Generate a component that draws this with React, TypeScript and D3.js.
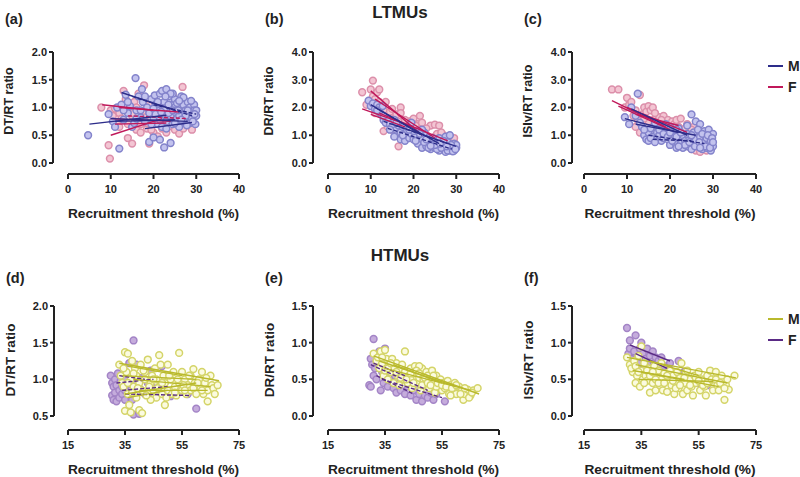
import * as d3 from "d3";

type Pt = [number, number];
type Seg = [number, number, number, number, number]; // x1, y1, x2, y2, dashed

// ---- LTMUs ----
const aMale: Pt[] = [[4.7,0.5],[9.5,0.88],[10.5,0.75],[11,0.65],[11.5,1.0],[12,0.26],[12.5,1.05],[13,0.78],[13.5,1.23],[14,0.9],[14.5,1.03],[15,0.65],[15.5,0.72],[15.8,1.53],[16,0.95],[16.5,1.2],[17,0.82],[17.3,1.33],[17.5,1.1],[18,0.75],[18.5,1.0],[19,0.38],[19,0.9],[19.5,1.15],[20,0.46],[20,0.8],[20.3,1.22],[20.5,1.05],[21,0.7],[21,0.95],[21.5,0.42],[21.5,1.25],[22,0.85],[22,1.3],[22.5,0.28],[22.5,1.1],[23,0.75],[23,0.95],[23,1.33],[23.5,1.2],[24,0.36],[24,0.85],[24,1.05],[24.5,0.7],[25,0.92],[25,1.15],[25.5,0.8],[26,1.0],[26,0.65],[26.5,1.2],[26.8,0.9],[27,1.05],[27,0.75],[27.5,0.95],[28,0.85],[28,1.1],[28.5,0.72],[28.5,1.0],[29,0.9],[29,0.8],[29.5,1.05],[29.5,0.95],[29.8,0.7],[30,0.85],[30,0.95],[21,1.1],[22,0.65],[25,1.0],[23.5,0.9],[26,0.85],[27.5,0.85],[24.5,1.25],[20,0.98],
  [19.5,0.7],[20.5,0.88],[21.5,0.78],[22.5,0.98],[23.5,1.05],[24.5,0.95],[25.5,1.08],[26.5,0.78],[27,1.18],[28,0.95],[28.8,1.12],[29.2,0.75],[25,0.72],[26,1.12],[23,0.62],[27.8,0.68],[24,1.25],[22.8,1.2],[18,1.2],[17,0.95],[16,0.8],[14,1.1],[13,0.95],[21.8,0.92],[29.6,0.88],[25.8,0.95]];
const aFemale: Pt[] = [[7.8,1.0],[9.5,0.32],[9.8,0.08],[10,0.95],[10.5,0.85],[11,0.98],[11.5,0.72],[12,0.9],[12.5,0.8],[13,1.3],[13.5,1.15],[14,0.45],[14,0.7],[14.5,0.95],[15,0.35],[15,0.85],[15.5,1.1],[16,0.6],[16.5,1.25],[17,0.7],[17,0.55],[17.8,1.4],[18,0.9],[18.5,0.62],[19,0.35],[19,1.05],[20,0.55],[20,0.75],[21,0.48],[21,0.9],[22,0.62],[22,1.0],[23,0.55],[23,0.8],[24,0.7],[24.5,1.22],[25,0.6],[25,0.95],[26,0.53],[26,0.75],[26.8,1.37],[27,0.62],[27.5,0.85],[28,0.7],[28.5,1.0],[29,0.6],[18,0.82],[16,1.0],
  [12,0.65],[15,0.9],[18.5,0.72],[20,0.95],[22,0.85],[24,0.9],[25.5,0.75],[27,0.95],[19.5,0.6],[23.5,0.65]];
const aMaleFits: Seg[] = [[5,0.7,23,0.86,0],[12.5,1.27,25,0.95,0],[15,1.2,29,0.85,1],[10,0.8,28,0.75,0],[18,0.62,29,0.73,0],[20,1.05,30,0.88,1],[11,0.75,25,0.78,0]];
const aFemaleFits: Seg[] = [[8,1.05,20,0.95,0],[10,0.5,22,0.8,0],[12,1.0,26,0.92,0],[10,0.8,24,0.75,0],[14,0.85,28,0.8,1],[11,0.7,23,0.72,0]];

const bMale: Pt[] = [[9.5,2.25],[10,2.05],[10.5,2.15],[11,1.95],[11.5,2.1],[12,2.0],[12,1.85],[12.5,1.75],[13,1.55],[13.5,1.45],[14,1.6],[14.5,1.4],[15,1.3],[15.5,1.55],[15.5,0.95],[16,1.2],[16.5,1.35],[17,1.1],[17,0.85],[17.5,1.3],[18,1.0],[18,0.8],[18.5,1.15],[19,0.9],[19.5,1.45],[19.5,1.05],[20,0.85],[20.5,1.0],[21,1.15],[21,0.7],[21.5,0.95],[22,0.55],[22,0.85],[22.5,1.1],[23,0.7],[23,0.6],[23.5,0.9],[24,0.5],[24,0.75],[24.5,0.65],[25,0.85],[25,0.55],[25.5,0.7],[26,0.6],[26,0.45],[26.5,0.8],[27,0.5],[27,0.65],[27.5,0.95],[27.5,0.4],[28,0.55],[28,0.75],[28.5,0.45],[28.5,1.0],[29,0.6],[29,0.5],[29.5,0.7],[29.5,0.45],[30,0.55],[30,0.65],[22,1.2],[20,1.15],[26,0.9],
  [13,1.7],[14.5,1.2],[16,1.45],[17.5,1.0],[19,1.2],[20.5,0.8],[21.5,1.05],[22.5,0.75],[23.5,0.55],[24.5,0.9],[25.5,0.5],[26.5,0.55],[27,0.8],[28,0.45],[28.8,0.65],[29.2,0.42],[29.8,0.5],[25,0.65],[23,0.85],[27.8,0.6],[26.2,0.7],[24,0.62],[11.5,1.9],[12.8,2.05]];
const bFemale: Pt[] = [[8,2.55],[9,2.1],[10,2.65],[10.5,2.97],[10.5,2.4],[11,2.3],[11,1.8],[11.5,2.55],[12,2.65],[12,2.2],[12.5,1.75],[13,1.9],[13,1.15],[13.5,2.2],[14,1.5],[14,1.3],[14.5,1.85],[15,1.6],[15,1.2],[15.5,1.45],[16,1.75],[16.5,0.6],[17,2.0],[17,1.8],[17.5,1.4],[18,1.3],[18,1.1],[19,1.5],[19.5,1.25],[20,1.6],[20,0.95],[21,1.4],[21,0.75],[21.5,1.7],[22,1.2],[22.5,0.6],[23,1.0],[23.5,0.85],[24,1.35],[24.5,0.65],[25,1.38],[25,0.95],[26,1.35],[26,0.8],[27,1.0],[27.5,0.7],[28,0.9],[28.5,0.65],[29,0.85],[29.5,0.75],[16,1.05],
  [13.5,1.6],[15,1.95],[16.5,1.5],[18,1.55],[19,1.2],[20.5,1.35],[22,1.45],[23,1.25],[25.5,1.05],[26.5,1.1],[28,0.75],[29.5,0.9]];
const bMaleFits: Seg[] = [[10,2.1,22,1.0,0],[11,2.0,26,0.7,0],[13,1.5,28,0.7,1],[15,1.4,30,0.6,0],[14,1.25,29,0.5,1]];
const bFemaleFits: Seg[] = [[8,1.95,20,1.3,0],[10,2.6,22,1.0,0],[11,2.3,25,0.9,0],[12,1.8,28,0.8,0],[10,1.75,18,1.3,0]];

const cMale: Pt[] = [[9.5,1.65],[10.5,1.4],[11,2.0],[12,1.7],[12.5,2.5],[13,1.45],[13.5,1.3],[14,1.0],[14.5,0.85],[15,1.1],[15,0.8],[15.5,1.25],[16,0.95],[16.5,1.45],[17,0.85],[17,1.1],[17.5,1.0],[18,0.8],[18,1.2],[18.5,0.9],[19,1.05],[19.5,0.85],[20,1.3],[20,0.65],[20.5,0.95],[21,1.1],[21,0.75],[21.5,0.55],[22,0.9],[22,1.25],[22.5,0.7],[23,1.0],[23,0.55],[23.5,0.8],[24,1.35],[24,0.6],[24.5,0.9],[25,1.75],[25,0.5],[25.5,1.1],[25.5,0.7],[26,1.5],[26,0.85],[26.5,0.6],[27,1.4],[27,0.95],[27.5,0.5],[28,1.15],[28,0.75],[28.5,0.9],[28.5,0.55],[29,1.2],[29,0.65],[29.5,0.45],[29.5,0.8],[30,1.05],[30,0.6],[19,1.4],[21.5,1.2],[24,1.05],[26.5,1.2],
  [15.5,0.9],[16.5,0.75],[17.5,1.2],[18.5,1.05],[19.5,0.95],[20.5,0.8],[21.5,0.95],[22.5,1.1],[23.5,0.65],[24.5,0.75],[25,1.0],[25.8,0.6],[26.8,0.75],[27.5,1.05],[28.2,0.6],[28.8,1.0],[29.3,0.55],[29.8,0.9],[30,0.75],[27,0.55],[22,0.6],[20,1.1],[14,1.2]];
const cFemale: Pt[] = [[6.5,2.65],[8,2.65],[9.5,2.0],[10,2.35],[10.5,2.1],[11,2.2],[11.5,1.7],[12,1.9],[12.5,1.55],[13,2.45],[13,1.1],[13.5,1.75],[14,2.0],[14.5,1.85],[15,2.05],[15,1.5],[15.5,1.9],[16,2.0],[16.5,1.6],[17,1.45],[17.5,1.65],[18,1.3],[18.5,1.7],[19,1.45],[19.5,1.55],[20,1.35],[20.5,1.5],[21,1.4],[21.5,1.55],[22,1.3],[22.5,1.6],[23,1.15],[24,1.4],[24.5,0.95],[25,0.5],[25.5,1.3],[26,0.45],[26.5,1.0],[27,0.4],[27.5,0.7],[28,0.85],[28.5,1.1],[29,0.6],[12,1.3],[17,1.2],
  [14,1.6],[16.5,1.8],[18,1.55],[19.5,1.35],[21,1.3],[23.5,1.25],[25,1.2],[26,1.05],[27,0.85],[28.5,0.45]];
const cMaleFits: Seg[] = [[9.5,1.6,22,1.1,0],[11,1.95,24,1.0,0],[15,1.0,28,0.7,1],[16,0.85,25,0.8,1],[12,1.4,26,1.0,0]];
const cFemaleFits: Seg[] = [[6.5,2.25,19,1.3,0],[8,2.05,20,1.2,0],[10,2.0,24,1.1,0],[12,1.75,22,1.35,0]];

// ---- HTMUs ----
const dMale: Pt[] = [[33,1.2],[33.5,1.05],[34,0.95],[34.5,0.9],[35,1.37],[35,0.57],[35.5,1.1],[36,1.35],[36,0.8],[36.5,0.65],[37,0.55],[37,1.0],[37.5,1.25],[38,0.9],[38.5,1.15],[39,0.75],[39,1.05],[40,0.58],[40,0.95],[40.5,1.2],[41,0.54],[41,0.85],[42,1.0],[42,1.1],[43,0.8],[43,1.27],[44,0.95],[44.5,1.05],[45,0.85],[45.5,1.15],[46,0.75],[46,1.0],[47,1.33],[47,0.9],[47.5,1.2],[48,0.8],[48.5,1.05],[49,0.65],[49,0.95],[50,1.2],[50,0.85],[51,1.0],[51.5,0.8],[52,1.1],[52.5,0.9],[53,0.78],[54,1.36],[54,0.95],[55,1.1],[55,0.85],[56,1.0],[56.5,0.8],[57,0.92],[58,1.05],[58,0.85],[59,1.14],[59.5,0.95],[60,0.8],[61,1.0],[61.5,0.88],[62,1.1],[62.5,0.8],[63,0.95],[64,0.7],[64,0.85],[65,1.05],[65.5,0.92],[66,0.88],[67.5,0.92],[44,0.72],[38,1.08],
  [36,0.95],[39.5,0.88],[41.5,1.12],[43.5,0.9],[45,1.0],[46.5,0.88],[48,0.95],[50.5,1.05],[52.5,0.82],[53.5,1.0],[55.5,0.92],[57.5,1.05],[59,0.88],[60.5,0.95],[62,0.85],[63.5,1.02],[66.5,0.8],[34.5,1.15],[37.5,0.82],[42.5,0.78],[49.5,0.75],[56,0.85]];
const dFemale: Pt[] = [[30,1.05],[30.5,0.95],[30.5,0.78],[31,0.9],[31,0.72],[31.5,1.0],[31.5,0.82],[32,0.92],[32,0.7],[32.5,1.08],[33,0.85],[33,0.75],[33.5,0.98],[34,0.9],[34,0.8],[35,1.0],[35,0.72],[36,0.9],[36.5,1.22],[37,0.85],[37.5,0.72],[38,1.53],[38,0.52],[38.5,0.95],[39,1.2],[40,0.53],[40,0.88],[41,1.02],[42,0.8],[43,0.95],[44,1.12],[45,0.88],[46,0.82],[48,1.18],[49,0.8],[51,0.77],[54,0.9],[57,0.8],[60,0.6],[35,0.85]];
const dMaleFits: Seg[] = [[33,1.22,68,0.98,0],[36,1.18,55,1.05,0],[35,0.8,60,0.95,0],[36,0.75,50,0.85,0],[38,1.0,65,0.9,0],[34,1.05,60,1.0,0],[40,0.85,64,0.85,0]];
const dFemaleFits: Seg[] = [[32,0.95,45,1.0,1],[34,0.85,50,0.9,1],[35,0.8,58,0.78,1],[33,1.05,42,1.0,1]];

const eMale: Pt[] = [[31,0.85],[32,0.75],[32.5,0.8],[33,0.65],[33.5,0.88],[34,0.72],[34.5,0.55],[35,0.9],[35,0.62],[35.5,0.78],[36,0.5],[36.5,0.7],[37,0.6],[37.5,0.78],[38,0.45],[38,0.65],[39,0.72],[39.5,0.55],[40,0.62],[40,0.42],[41,0.7],[41.5,0.5],[42,0.88],[42,0.6],[43,0.45],[43.5,0.55],[44,0.65],[44.5,0.38],[45,0.58],[45.5,0.68],[46,0.45],[46.5,0.6],[47,0.52],[47.5,0.35],[48,0.65],[48.5,0.5],[49,0.42],[49.5,0.6],[50,0.55],[50.5,0.38],[51,0.5],[51.5,0.62],[52,0.45],[52.5,0.32],[53,0.55],[54,0.42],[54.5,0.5],[55,0.35],[55.5,0.45],[56,0.38],[57,0.48],[57.5,0.3],[58,0.42],[59,0.35],[59.5,0.45],[60,0.3],[61,0.4],[62,0.35],[62.5,0.22],[63,0.3],[64,0.36],[65,0.28],[66,0.35],[67.5,0.38],[44,0.5],[47,0.68],[53,0.4],[58,0.28],
  [34,0.8],[36,0.65],[37,0.72],[39,0.6],[40.5,0.52],[42.5,0.5],[44,0.58],[45,0.45],[46,0.62],[48,0.42],[49,0.52],[50,0.45],[51,0.42],[52,0.55],[53.5,0.45],[55,0.42],[56.5,0.4],[58.5,0.38],[60,0.42],[61.5,0.3],[63,0.38],[64.5,0.25],[65.5,0.32],[47,0.58]];
const eFemale: Pt[] = [[29.5,0.42],[30,0.4],[30,0.78],[30.5,0.7],[31,1.05],[31,0.55],[31.5,0.65],[32,0.5],[32.5,0.72],[33,0.88],[33.5,0.35],[34,0.6],[34.5,0.45],[35,0.92],[35,0.55],[36,0.4],[36.5,0.62],[37,0.48],[38,0.38],[38.5,0.55],[39,0.32],[40,0.45],[40.5,0.35],[41,0.58],[42,0.3],[43,0.4],[43.5,0.62],[44,0.28],[45,0.35],[46,0.22],[46.5,0.4],[47,0.3],[48,0.2],[49,0.28],[50,0.25],[51,0.32],[52,0.22],[53,0.3],[56,0.2],[58,0.3]];
const eMaleFits: Seg[] = [[31,0.82,68,0.3,0],[33,0.75,60,0.4,0],[35,0.65,65,0.35,0],[38,0.7,55,0.45,0]];
const eFemaleFits: Seg[] = [[30,0.7,50,0.35,1],[32,0.55,45,0.3,1],[34,0.5,55,0.25,1],[31,0.72,42,0.55,1]];

const fMale: Pt[] = [[30,0.8],[31,0.7],[32,0.6],[32.5,0.75],[33,0.45],[33.5,0.55],[34,0.82],[34.5,0.4],[35,0.95],[35,0.62],[35.5,0.5],[36,0.72],[36.5,0.55],[37,0.48],[37.5,0.65],[38,0.32],[38.5,0.58],[39,0.45],[39.5,0.68],[40,0.35],[40.5,0.55],[41,0.62],[41.5,0.42],[42,0.5],[42.5,0.35],[43,0.58],[44,0.33],[44.5,0.48],[45,0.62],[45.5,0.42],[46,0.55],[46.5,0.3],[47,0.45],[47.5,0.6],[48,0.38],[48.5,0.52],[49,0.72],[49.5,0.3],[50,0.45],[50.5,0.58],[51,0.35],[52,0.5],[52.5,0.4],[53,0.28],[53.5,0.55],[54,0.45],[55,0.6],[55.5,0.35],[56,0.5],[57,0.4],[57.5,0.28],[58,0.55],[58.5,0.45],[59,0.62],[60,0.35],[60,0.5],[61,0.6],[61.5,0.42],[62,0.35],[63,0.48],[64,0.22],[64.5,0.42],[65,0.5],[65.5,0.36],[67.5,0.55],[42,0.72],[51,0.62],
  [31.5,0.65],[33,0.68],[34,0.6],[36,0.45],[37,0.62],[38,0.55],[39,0.6],[40,0.5],[41,0.45],[43,0.45],[44,0.55],[46,0.48],[47,0.38],[48.5,0.42],[50,0.52],[52,0.42],[54,0.52],[55,0.48],[56.5,0.42],[58,0.45],[59.5,0.5],[61,0.5],[62.5,0.45],[64,0.38],[63,0.55]];
const fFemale: Pt[] = [[30,1.2],[30.5,0.85],[31,1.03],[31,0.92],[31.5,0.78],[32,0.7],[32.5,0.88],[33,1.1],[33.5,0.8],[34,0.72],[34.5,0.92],[35,1.0],[35.5,0.85],[36,0.65],[36.5,0.78],[37,0.92],[37.5,0.7],[38,0.82],[38.5,0.6],[39,0.88],[39.5,0.72],[40,0.8],[40.5,0.62],[41,0.75],[42,0.8],[43,0.68],[44,0.6],[45,0.72],[46,0.55],[48,0.75],[50,0.6],[52,0.5],[55,0.45],[58,0.42]];
const fMaleFits: Seg[] = [[30,0.8,68,0.52,0],[33,0.7,65,0.45,0],[34,0.5,60,0.47,0],[35,0.6,62,0.4,0],[38,0.75,55,0.55,0],[32,0.62,50,0.5,0]];
const fFemaleFits: Seg[] = [[31,0.97,45,0.75,0],[33,0.85,44,0.65,0]];

const ltTicksX = [0, 10, 20, 30, 40];
const htTicksX = [15, 35, 55, 75];
const legendLabels = ["M", "F"];

const FONT = "'Liberation Sans', Arial, Helvetica, sans-serif";
const INK = "#222";

const topColors = {
  m: { stroke: "#8383cb", fill: "#c3c3ee", line: "#2d2d8a" },
  f: { stroke: "#dc8faa", fill: "#f3c5d3", line: "#c0185a" },
};
const botColors = {
  m: { stroke: "#d4d468", fill: "#fbfbe0", line: "#b9b92c" },
  f: { stroke: "#a384c6", fill: "#c5acdc", line: "#5a2a85" },
};

type PanelCfg = {
  tag: string;
  ylabel: string;
  yAxisX: number;
  xr: [number, number];
  yr: [number, number];
  axisY: number;
  xd: [number, number];
  yd: [number, number];
  xticks: number[];
  yticks: number[];
  male: Pt[];
  female: Pt[];
  maleFits: Seg[];
  femaleFits: Seg[];
  colors: typeof topColors;
  labelY: number;
  yLabelSize: number;
  yMid: number;
};

const top = { yr: [163, 52] as [number, number], axisY: 174, labelY: 24, yLabelSize: 12.5, yMid: 101 };
const bot = { yr: [416, 306] as [number, number], axisY: 430, labelY: 283, yLabelSize: 13.5, yMid: 360 };

const panels: PanelCfg[] = [
  { tag: "(a)", ylabel: "DT/RT ratio", yAxisX: 53, xr: [68, 239], ...top, xd: [0, 40], yd: [0, 2], xticks: ltTicksX, yticks: [0, 0.5, 1, 1.5, 2], male: aMale, female: aFemale, maleFits: aMaleFits, femaleFits: aFemaleFits, colors: topColors },
  { tag: "(b)", ylabel: "DR/RT ratio", yAxisX: 313, xr: [328, 499], ...top, xd: [0, 40], yd: [0, 4], xticks: ltTicksX, yticks: [0, 1, 2, 3, 4], male: bMale, female: bFemale, maleFits: bMaleFits, femaleFits: bFemaleFits, colors: topColors },
  { tag: "(c)", ylabel: "ISIv/RT ratio", yAxisX: 572, xr: [584, 756], ...top, xd: [0, 40], yd: [0, 4], xticks: ltTicksX, yticks: [0, 1, 2, 3, 4], male: cMale, female: cFemale, maleFits: cMaleFits, femaleFits: cFemaleFits, colors: topColors },
  { tag: "(d)", ylabel: "DT/RT ratio", yAxisX: 54, xr: [68, 239], ...bot, xd: [15, 75], yd: [0.5, 2], xticks: htTicksX, yticks: [0.5, 1, 1.5, 2], male: dMale, female: dFemale, maleFits: dMaleFits, femaleFits: dFemaleFits, colors: botColors },
  { tag: "(e)", ylabel: "DR/RT ratio", yAxisX: 313, xr: [328, 499], ...bot, xd: [15, 75], yd: [0, 1.5], xticks: htTicksX, yticks: [0, 0.5, 1, 1.5], male: eMale, female: eFemale, maleFits: eMaleFits, femaleFits: eFemaleFits, colors: botColors },
  { tag: "(f)", ylabel: "ISIv/RT ratio", yAxisX: 572, xr: [584, 756], ...bot, xd: [15, 75], yd: [0, 1.5], xticks: htTicksX, yticks: [0, 0.5, 1, 1.5], male: fMale, female: fFemale, maleFits: fMaleFits, femaleFits: fFemaleFits, colors: botColors },
];

function Panel({ p }: { p: PanelCfg }) {
  const x = d3.scaleLinear().domain(p.xd).range(p.xr);
  const y = d3.scaleLinear().domain(p.yd).range(p.yr);
  const yFmt = d3.format(".1f");
  const tagX = p.yAxisX - 48;
  const fits = (segs: Seg[], color: string) =>
    segs.map((s, i) => (
      <line
        key={color + i}
        x1={x(s[0])}
        y1={y(s[1])}
        x2={x(s[2])}
        y2={y(s[3])}
        stroke={color}
        strokeWidth={1.4}
        strokeDasharray={s[4] ? "4,2" : undefined}
      />
    ));
  const dots = (pts: Pt[], c: { stroke: string; fill: string }) =>
    pts.map((d, i) => (
      <circle key={c.stroke + i} cx={x(d[0])} cy={y(d[1])} r={3.4} fill={c.fill} stroke={c.stroke} strokeWidth={1.5} />
    ));

  return (
    <g>
      <text x={tagX} y={p.labelY} fontSize={14.5} fontWeight="bold" fill={INK}>
        {p.tag}
      </text>
      {/* y axis */}
      <line x1={p.yAxisX} x2={p.yAxisX} y1={p.yr[0]} y2={p.yr[1]} stroke={INK} strokeWidth={2} />
      {p.yticks.map((t) => (
        <g key={t}>
          <line x1={p.yAxisX - 4} x2={p.yAxisX} y1={y(t)} y2={y(t)} stroke={INK} strokeWidth={2} />
          <text x={p.yAxisX - 6} y={y(t)} dy="0.35em" textAnchor="end" fontSize={11} fontWeight="bold" fill={INK}>
            {yFmt(t)}
          </text>
        </g>
      ))}
      <text
        transform={`translate(${p.yAxisX - 44},${p.yMid}) rotate(-90)`}
        textAnchor="middle"
        dy="0.35em"
        fontSize={p.yLabelSize}
        fontWeight="bold"
        fill={INK}
      >
        {p.ylabel}
      </text>
      {/* x axis */}
      <line x1={p.xr[0]} x2={p.xr[1]} y1={p.axisY} y2={p.axisY} stroke={INK} strokeWidth={2} />
      {p.xticks.map((t) => (
        <g key={t}>
          <line x1={x(t)} x2={x(t)} y1={p.axisY} y2={p.axisY + 5} stroke={INK} strokeWidth={2} />
          <text x={x(t)} y={p.axisY + 19} textAnchor="middle" fontSize={11} fontWeight="bold" fill={INK}>
            {t}
          </text>
        </g>
      ))}
      <text x={(p.xr[0] + p.xr[1]) / 2} y={p.axisY + 44} textAnchor="middle" fontSize={13.7} fontWeight="bold" fill={INK}>
        Recruitment threshold (%)
      </text>
      {dots(p.female, p.colors.f)}
      {dots(p.male, p.colors.m)}
      {fits(p.femaleFits, p.colors.f.line)}
      {fits(p.maleFits, p.colors.m.line)}
    </g>
  );
}

function Legend({ y0, colors }: { y0: number; colors: typeof topColors }) {
  const cols = [colors.m.line, colors.f.line];
  return (
    <g>
      {legendLabels.map((lab, i) => (
        <g key={lab} transform={`translate(768,${y0 + i * 21})`}>
          <line x1={0} x2={15} y1={0} y2={0} stroke={cols[i]} strokeWidth={2} />
          <text x={20} y={0} dy="0.36em" fontSize={14} fontWeight="bold" fill={INK}>
            {lab}
          </text>
        </g>
      ))}
    </g>
  );
}

export default function App() {
  return (
    <svg
      width={800}
      height={477}
      style={{ position: "absolute", left: 0, top: 0, background: "#fff", fontFamily: FONT }}
    >
      <text x={400} y={18} textAnchor="middle" fontSize={17} fontWeight="bold" fill={INK}>
        LTMUs
      </text>
      <text x={400} y={261} textAnchor="middle" fontSize={17} fontWeight="bold" fill={INK}>
        HTMUs
      </text>
      {panels.map((p) => (
        <Panel key={p.tag} p={p} />
      ))}
      <Legend y0={66} colors={topColors} />
      <Legend y0={319} colors={botColors} />
    </svg>
  );
}
